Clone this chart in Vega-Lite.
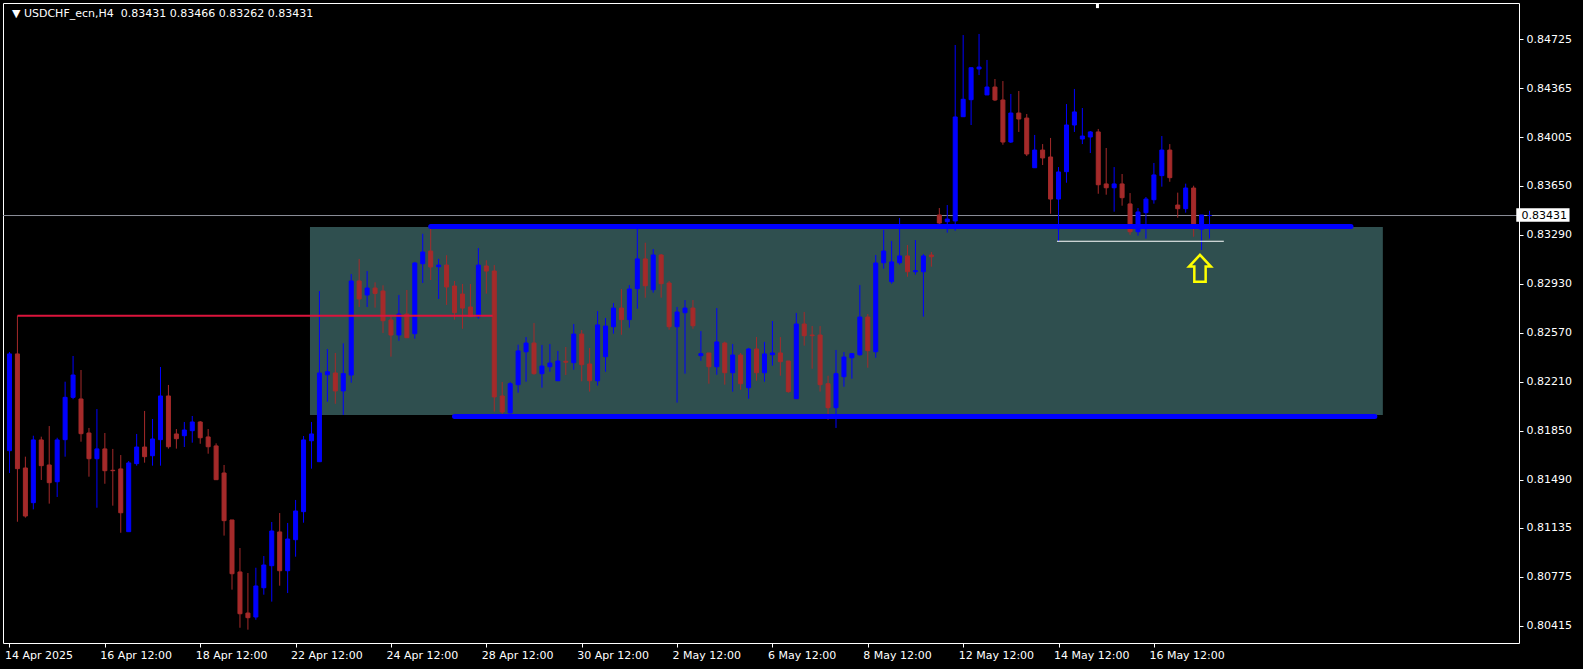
{
  "$schema": "https://vega.github.io/schema/vega-lite/v6.json",
  "width": 1516,
  "height": 640,
  "autosize": "none",
  "padding": {"left": 3, "top": 3, "right": 64, "bottom": 26},
  "background": "#000000",
  "config": {"view": {"stroke": "#ffffff", "strokeWidth": 1}, "font": "DejaVu Sans"},
  "datasets": {
    "candles": [
      {"i":0,"o":0.81703,"h":0.82428,"l":0.81539,"c":0.82414},
      {"i":1,"o":0.82414,"h":0.82695,"l":0.81181,"c":0.81571},
      {"i":2,"o":0.81576,"h":0.81659,"l":0.81211,"c":0.81223},
      {"i":3,"o":0.81321,"h":0.81813,"l":0.81272,"c":0.81782},
      {"i":4,"o":0.81782,"h":0.81806,"l":0.81488,"c":0.81593},
      {"i":5,"o":0.81598,"h":0.81884,"l":0.81314,"c":0.81468},
      {"i":6,"o":0.81475,"h":0.81798,"l":0.81363,"c":0.81782},
      {"i":7,"o":0.81784,"h":0.8221,"l":0.81659,"c":0.82095},
      {"i":8,"o":0.82095,"h":0.82399,"l":0.82081,"c":0.82259},
      {"i":9,"o":0.82083,"h":0.82296,"l":0.81769,"c":0.81828},
      {"i":10,"o":0.81833,"h":0.8187,"l":0.81512,"c":0.81644},
      {"i":11,"o":0.81644,"h":0.82009,"l":0.81284,"c":0.81716},
      {"i":12,"o":0.81716,"h":0.81833,"l":0.8146,"c":0.81556},
      {"i":13,"o":0.81559,"h":0.81716,"l":0.81299,"c":0.81556},
      {"i":14,"o":0.81569,"h":0.81671,"l":0.811,"c":0.81247},
      {"i":15,"o":0.81108,"h":0.81627,"l":0.81108,"c":0.81613},
      {"i":16,"o":0.81608,"h":0.81826,"l":0.81593,"c":0.8173},
      {"i":17,"o":0.8173,"h":0.81995,"l":0.81615,"c":0.81659},
      {"i":18,"o":0.81666,"h":0.81936,"l":0.81593,"c":0.81789},
      {"i":19,"o":0.81784,"h":0.82318,"l":0.81593,"c":0.82105},
      {"i":20,"o":0.82105,"h":0.82186,"l":0.81718,"c":0.81732},
      {"i":21,"o":0.81826,"h":0.81862,"l":0.81718,"c":0.81791},
      {"i":22,"o":0.81813,"h":0.81914,"l":0.8173,"c":0.81855},
      {"i":23,"o":0.8185,"h":0.81958,"l":0.81762,"c":0.81914},
      {"i":24,"o":0.81914,"h":0.81921,"l":0.81754,"c":0.81798},
      {"i":25,"o":0.81804,"h":0.81862,"l":0.81681,"c":0.81732},
      {"i":26,"o":0.81738,"h":0.81757,"l":0.81488,"c":0.8149},
      {"i":27,"o":0.81539,"h":0.81598,"l":0.81079,"c":0.81189},
      {"i":28,"o":0.81194,"h":0.81194,"l":0.80682,"c":0.80799},
      {"i":29,"o":0.80812,"h":0.80988,"l":0.80402,"c":0.80505},
      {"i":30,"o":0.8051,"h":0.80804,"l":0.80388,"c":0.80476},
      {"i":31,"o":0.80481,"h":0.80843,"l":0.80461,"c":0.80709},
      {"i":32,"o":0.80696,"h":0.80929,"l":0.80645,"c":0.80863},
      {"i":33,"o":0.80858,"h":0.81179,"l":0.80594,"c":0.81113},
      {"i":34,"o":0.81106,"h":0.81245,"l":0.80711,"c":0.80821},
      {"i":35,"o":0.80821,"h":0.81172,"l":0.80657,"c":0.81054},
      {"i":36,"o":0.81049,"h":0.81341,"l":0.80924,"c":0.8126},
      {"i":37,"o":0.81255,"h":0.81811,"l":0.81174,"c":0.81782},
      {"i":38,"o":0.81776,"h":0.81914,"l":0.81571,"c":0.81826},
      {"i":39,"o":0.81622,"h":0.82876,"l":0.81622,"c":0.82274},
      {"i":40,"o":0.82261,"h":0.8245,"l":0.82063,"c":0.82283},
      {"i":41,"o":0.82274,"h":0.82421,"l":0.82048,"c":0.82142},
      {"i":42,"o":0.82142,"h":0.82492,"l":0.81965,"c":0.82269},
      {"i":43,"o":0.82259,"h":0.83001,"l":0.82203,"c":0.8295},
      {"i":44,"o":0.8295,"h":0.83112,"l":0.82759,"c":0.82818},
      {"i":45,"o":0.82847,"h":0.83023,"l":0.82759,"c":0.82898},
      {"i":46,"o":0.82898,"h":0.8294,"l":0.82754,"c":0.82859},
      {"i":47,"o":0.82876,"h":0.82918,"l":0.82568,"c":0.82658},
      {"i":48,"o":0.82663,"h":0.82688,"l":0.82394,"c":0.82553},
      {"i":49,"o":0.82553,"h":0.82847,"l":0.82511,"c":0.82707},
      {"i":50,"o":0.82707,"h":0.82884,"l":0.82533,"c":0.82533},
      {"i":51,"o":0.82563,"h":0.8309,"l":0.82526,"c":0.83082},
      {"i":52,"o":0.83077,"h":0.83297,"l":0.82935,"c":0.83163},
      {"i":53,"o":0.8317,"h":0.83337,"l":0.82957,"c":0.83053},
      {"i":54,"o":0.83055,"h":0.83112,"l":0.82818,"c":0.83067},
      {"i":55,"o":0.83067,"h":0.83139,"l":0.82774,"c":0.82906},
      {"i":56,"o":0.82913,"h":0.8295,"l":0.82666,"c":0.82717},
      {"i":57,"o":0.82854,"h":0.82928,"l":0.82599,"c":0.82751},
      {"i":58,"o":0.82759,"h":0.82928,"l":0.82688,"c":0.82688},
      {"i":59,"o":0.82688,"h":0.83192,"l":0.82673,"c":0.83067},
      {"i":60,"o":0.8306,"h":0.83102,"l":0.82857,"c":0.83023},
      {"i":61,"o":0.83023,"h":0.83067,"l":0.8199,"c":0.82098},
      {"i":62,"o":0.82105,"h":0.82208,"l":0.81973,"c":0.81987},
      {"i":63,"o":0.8198,"h":0.82208,"l":0.8198,"c":0.82195},
      {"i":64,"o":0.82188,"h":0.82482,"l":0.82129,"c":0.82436},
      {"i":65,"o":0.8243,"h":0.82538,"l":0.8221,"c":0.82494},
      {"i":66,"o":0.82494,"h":0.82641,"l":0.82261,"c":0.82269},
      {"i":67,"o":0.82269,"h":0.8248,"l":0.82166,"c":0.82325},
      {"i":68,"o":0.8232,"h":0.82487,"l":0.82283,"c":0.82347},
      {"i":69,"o":0.82217,"h":0.82436,"l":0.82217,"c":0.82362},
      {"i":70,"o":0.8236,"h":0.82465,"l":0.82259,"c":0.82353},
      {"i":71,"o":0.8235,"h":0.82634,"l":0.82298,"c":0.8256},
      {"i":72,"o":0.8256,"h":0.8259,"l":0.82213,"c":0.82335},
      {"i":73,"o":0.8234,"h":0.82458,"l":0.82137,"c":0.82217},
      {"i":74,"o":0.82217,"h":0.82729,"l":0.82181,"c":0.82627},
      {"i":75,"o":0.82394,"h":0.82678,"l":0.82283,"c":0.82619},
      {"i":76,"o":0.82614,"h":0.82788,"l":0.82563,"c":0.82751},
      {"i":77,"o":0.82751,"h":0.82891,"l":0.82555,"c":0.82666},
      {"i":78,"o":0.82666,"h":0.8292,"l":0.82607,"c":0.82891},
      {"i":79,"o":0.82893,"h":0.83332,"l":0.82746,"c":0.83112},
      {"i":80,"o":0.83112,"h":0.83231,"l":0.82827,"c":0.82915},
      {"i":81,"o":0.82886,"h":0.83185,"l":0.82864,"c":0.83141},
      {"i":82,"o":0.83141,"h":0.83148,"l":0.82827,"c":0.8293},
      {"i":83,"o":0.82935,"h":0.8295,"l":0.82592,"c":0.82614},
      {"i":84,"o":0.82614,"h":0.82759,"l":0.82056,"c":0.82722},
      {"i":85,"o":0.82717,"h":0.8281,"l":0.82269,"c":0.82751},
      {"i":86,"o":0.82751,"h":0.8281,"l":0.82599,"c":0.82621},
      {"i":87,"o":0.82401,"h":0.82582,"l":0.82364,"c":0.82416},
      {"i":88,"o":0.82421,"h":0.82421,"l":0.82195,"c":0.8232},
      {"i":89,"o":0.8232,"h":0.82751,"l":0.82261,"c":0.82502},
      {"i":90,"o":0.82494,"h":0.82504,"l":0.82188,"c":0.82276},
      {"i":91,"o":0.82276,"h":0.82487,"l":0.82137,"c":0.82406},
      {"i":92,"o":0.82406,"h":0.82421,"l":0.82151,"c":0.82195},
      {"i":93,"o":0.82166,"h":0.82458,"l":0.82085,"c":0.8245},
      {"i":94,"o":0.8245,"h":0.82538,"l":0.82217,"c":0.82276},
      {"i":95,"o":0.82276,"h":0.82502,"l":0.8221,"c":0.82414},
      {"i":96,"o":0.82408,"h":0.82656,"l":0.82328,"c":0.82421},
      {"i":97,"o":0.82421,"h":0.82538,"l":0.82254,"c":0.82357},
      {"i":98,"o":0.82362,"h":0.82362,"l":0.82129,"c":0.82137},
      {"i":99,"o":0.82085,"h":0.82715,"l":0.82085,"c":0.82634},
      {"i":100,"o":0.82634,"h":0.82722,"l":0.82475,"c":0.82548},
      {"i":101,"o":0.82553,"h":0.82619,"l":0.82305,"c":0.82548},
      {"i":102,"o":0.82553,"h":0.82619,"l":0.82137,"c":0.82188},
      {"i":103,"o":0.82195,"h":0.82254,"l":0.81931,"c":0.82019},
      {"i":104,"o":0.82019,"h":0.82443,"l":0.8187,"c":0.82269},
      {"i":105,"o":0.82247,"h":0.82428,"l":0.82173,"c":0.82391},
      {"i":106,"o":0.82386,"h":0.82421,"l":0.82232,"c":0.82416},
      {"i":107,"o":0.82408,"h":0.8292,"l":0.82401,"c":0.82685},
      {"i":108,"o":0.82685,"h":0.82707,"l":0.82313,"c":0.82438},
      {"i":109,"o":0.8243,"h":0.83141,"l":0.82386,"c":0.83082},
      {"i":110,"o":0.83084,"h":0.83325,"l":0.8304,"c":0.8317},
      {"i":111,"o":0.82945,"h":0.83244,"l":0.8293,"c":0.8309},
      {"i":112,"o":0.83084,"h":0.83413,"l":0.8307,"c":0.83134},
      {"i":113,"o":0.83134,"h":0.83214,"l":0.82981,"c":0.83018},
      {"i":114,"o":0.83018,"h":0.83251,"l":0.82996,"c":0.83026},
      {"i":115,"o":0.83018,"h":0.83148,"l":0.82688,"c":0.83134},
      {"i":116,"o":0.83141,"h":0.83163,"l":0.83055,"c":0.83128},
      {"i":117,"o":0.83435,"h":0.83486,"l":0.83349,"c":0.83376},
      {"i":118,"o":0.83386,"h":0.83508,"l":0.83305,"c":0.83405},
      {"i":119,"o":0.83391,"h":0.84684,"l":0.83319,"c":0.84155},
      {"i":120,"o":0.84157,"h":0.84757,"l":0.84157,"c":0.84285},
      {"i":121,"o":0.84282,"h":0.84517,"l":0.84096,"c":0.84517},
      {"i":122,"o":0.84508,"h":0.84765,"l":0.84463,"c":0.84522},
      {"i":123,"o":0.84317,"h":0.84574,"l":0.84317,"c":0.84375},
      {"i":124,"o":0.84375,"h":0.84434,"l":0.84272,"c":0.8428},
      {"i":125,"o":0.8428,"h":0.84419,"l":0.83951,"c":0.83971},
      {"i":126,"o":0.83971,"h":0.84324,"l":0.83964,"c":0.84184},
      {"i":127,"o":0.84184,"h":0.84346,"l":0.84045,"c":0.8414},
      {"i":128,"o":0.84147,"h":0.84177,"l":0.83868,"c":0.83883},
      {"i":129,"o":0.83782,"h":0.84023,"l":0.83782,"c":0.83912},
      {"i":130,"o":0.83912,"h":0.83956,"l":0.83802,"c":0.83854},
      {"i":131,"o":0.83861,"h":0.84001,"l":0.83444,"c":0.83552},
      {"i":132,"o":0.83552,"h":0.83787,"l":0.83239,"c":0.83751},
      {"i":133,"o":0.83753,"h":0.8425,"l":0.83672,"c":0.84096},
      {"i":134,"o":0.84096,"h":0.84361,"l":0.84045,"c":0.84192},
      {"i":135,"o":0.83993,"h":0.84221,"l":0.83956,"c":0.84015},
      {"i":136,"o":0.84008,"h":0.84052,"l":0.8389,"c":0.84045},
      {"i":137,"o":0.84045,"h":0.84067,"l":0.83591,"c":0.83657},
      {"i":138,"o":0.83663,"h":0.83927,"l":0.83584,"c":0.83635},
      {"i":139,"o":0.83635,"h":0.83787,"l":0.83459,"c":0.83663},
      {"i":140,"o":0.83663,"h":0.83736,"l":0.83503,"c":0.83562},
      {"i":141,"o":0.83516,"h":0.83596,"l":0.8329,"c":0.83312},
      {"i":142,"o":0.83312,"h":0.83486,"l":0.83283,"c":0.83457},
      {"i":143,"o":0.83452,"h":0.83567,"l":0.83261,"c":0.83552},
      {"i":144,"o":0.83547,"h":0.83817,"l":0.83518,"c":0.83729},
      {"i":145,"o":0.83724,"h":0.84015,"l":0.83643,"c":0.83912},
      {"i":146,"o":0.83912,"h":0.83956,"l":0.83679,"c":0.83709},
      {"i":147,"o":0.83508,"h":0.83599,"l":0.83415,"c":0.83481},
      {"i":148,"o":0.83481,"h":0.83665,"l":0.83452,"c":0.83633},
      {"i":149,"o":0.83633,"h":0.8365,"l":0.83275,"c":0.83354},
      {"i":150,"o":0.8333,"h":0.83435,"l":0.83178,"c":0.83435},
      {"i":151,"o":0.83431,"h":0.83466,"l":0.83262,"c":0.83431}
    ]
  },
  "layer": [
    {
      "data": {"values": [{"x1": 37.81, "x2": 172.81, "top": 0.83347, "bottom": 0.81966}]},
      "mark": {"type": "rect", "color": "#2f4f4f"},
      "encoding": {
        "x": {
          "field": "x1", "type": "quantitative",
          "scale": {"domain": [-0.1875, 189.3125], "nice": false, "zero": false},
          "axis": {
            "orient": "bottom", "title": null, "grid": false, "domain": false,
            "values": [0, 12, 24, 36, 48, 60, 72, 84, 96, 108, 120, 132, 144],
            "labelExpr": "['14 Apr 2025','16 Apr 12:00','18 Apr 12:00','22 Apr 12:00','24 Apr 12:00','28 Apr 12:00','30 Apr 12:00','2 May 12:00','6 May 12:00','8 May 12:00','12 May 12:00','14 May 12:00','16 May 12:00'][round(datum.value / 12)]",
            "tickColor": "#ffffff", "tickSize": 4, "tickWidth": 1,
            "labelColor": "#ffffff", "labelFont": "DejaVu Sans", "labelFontSize": 11,
            "labelAlign": "left", "labelPadding": 2, "labelOffset": -5, "labelOverlap": false, "labelFlush": false, "labelBound": false
          }
        },
        "x2": {"field": "x2"},
        "y": {
          "field": "top", "type": "quantitative",
          "scale": {"domain": [0.8029, 0.849925], "nice": false, "zero": false},
          "axis": {
            "orient": "right", "title": null, "grid": false, "domain": false,
            "values": [0.84725, 0.84365, 0.84005, 0.8365, 0.8329, 0.8293, 0.8257, 0.8221, 0.8185, 0.8149, 0.81135, 0.80775, 0.80415],
            "format": ".5f",
            "tickColor": "#ffffff", "tickSize": 4, "tickWidth": 1,
            "labelColor": "#ffffff", "labelFont": "DejaVu Sans", "labelFontSize": 11,
            "labelPadding": 3, "labelOverlap": false, "labelBound": false
          }
        },
        "y2": {"field": "bottom"}
      }
    },
    {
      "data": {"values": [{"price": 0.83431}]},
      "mark": {"type": "rule", "color": "#8c8f99", "strokeWidth": 1},
      "encoding": {
        "y": {"field": "price", "type": "quantitative", "scale": {"domain": [0.8029, 0.849925], "nice": false, "zero": false}, "axis": {"title": null}}
      }
    },
    {
      "data": {"name": "candles"},
      "mark": {"type": "rule", "strokeWidth": 1},
      "encoding": {
        "x": {"field": "i", "type": "quantitative", "scale": {"domain": [-0.1875, 189.3125], "nice": false, "zero": false}, "axis": {"title": null}},
        "y": {"field": "l", "type": "quantitative", "scale": {"domain": [0.8029, 0.849925], "nice": false, "zero": false}, "axis": {"title": null}},
        "y2": {"field": "h"},
        "color": {"condition": {"test": "datum.c >= datum.o", "value": "#0000ff"}, "value": "#a52a2a"}
      }
    },
    {
      "data": {"name": "candles"},
      "mark": {"type": "bar", "size": 4, "strokeWidth": 1},
      "encoding": {
        "x": {"field": "i", "type": "quantitative", "scale": {"domain": [-0.1875, 189.3125], "nice": false, "zero": false}, "axis": {"title": null}},
        "y": {"field": "o", "type": "quantitative", "scale": {"domain": [0.8029, 0.849925], "nice": false, "zero": false}, "axis": {"title": null}},
        "y2": {"field": "c"},
        "color": {"condition": {"test": "datum.c >= datum.o", "value": "#0000ff"}, "value": "#a52a2a"},
        "stroke": {"condition": {"test": "datum.c >= datum.o", "value": "#0000ff"}, "value": "#a52a2a"}
      }
    },
    {
      "data": {"values": [{"x1": 1, "x2": 60.8, "price": 0.82695}]},
      "mark": {"type": "rule", "color": "#dc143c", "strokeWidth": 2},
      "encoding": {
        "x": {"field": "x1", "type": "quantitative", "scale": {"domain": [-0.1875, 189.3125], "nice": false, "zero": false}, "axis": {"title": null}},
        "x2": {"field": "x2"},
        "y": {"field": "price", "type": "quantitative", "scale": {"domain": [0.8029, 0.849925], "nice": false, "zero": false}, "axis": {"title": null}}
      }
    },
    {
      "data": {"values": [{"x1": 53, "x2": 168.8, "price": 0.8335}, {"x1": 56, "x2": 171.8, "price": 0.81954}]},
      "mark": {"type": "rule", "color": "#0000ff", "strokeWidth": 5, "strokeCap": "round"},
      "encoding": {
        "x": {"field": "x1", "type": "quantitative", "scale": {"domain": [-0.1875, 189.3125], "nice": false, "zero": false}, "axis": {"title": null}},
        "x2": {"field": "x2"},
        "y": {"field": "price", "type": "quantitative", "scale": {"domain": [0.8029, 0.849925], "nice": false, "zero": false}, "axis": {"title": null}}
      }
    },
    {
      "data": {"values": [{"x1": 131.8, "x2": 152.8, "price": 0.83242}]},
      "mark": {"type": "rule", "color": "#ffffff", "strokeWidth": 1.2},
      "encoding": {
        "x": {"field": "x1", "type": "quantitative", "scale": {"domain": [-0.1875, 189.3125], "nice": false, "zero": false}, "axis": {"title": null}},
        "x2": {"field": "x2"},
        "y": {"field": "price", "type": "quantitative", "scale": {"domain": [0.8029, 0.849925], "nice": false, "zero": false}, "axis": {"title": null}}
      }
    },
    {
      "data": {"values": [{"i": 149.8, "price": 0.83043}]},
      "mark": {"type": "point", "shape": "M0,-1L0.81,-0.13L0.42,-0.13L0.42,1L-0.42,1L-0.42,-0.13L-0.81,-0.13Z", "filled": false, "color": "#ffff00", "strokeWidth": 2.5, "size": 729, "opacity": 1},
      "encoding": {
        "x": {"field": "i", "type": "quantitative", "scale": {"domain": [-0.1875, 189.3125], "nice": false, "zero": false}, "axis": {"title": null}},
        "y": {"field": "price", "type": "quantitative", "scale": {"domain": [0.8029, 0.849925], "nice": false, "zero": false}, "axis": {"title": null}}
      }
    },
    {
      "data": {"values": [{"i": 136.9, "p1": 0.849925, "p2": 0.84955}]},
      "mark": {"type": "rule", "color": "#ffffff", "strokeWidth": 3},
      "encoding": {
        "x": {"field": "i", "type": "quantitative", "scale": {"domain": [-0.1875, 189.3125], "nice": false, "zero": false}, "axis": {"title": null}},
        "y": {"field": "p1", "type": "quantitative", "scale": {"domain": [0.8029, 0.849925], "nice": false, "zero": false}, "axis": {"title": null}},
        "y2": {"field": "p2"}
      }
    },
    {
      "data": {"values": [{"x1": 189.6, "x2": 196.3, "top": 0.83484, "bottom": 0.83386}]},
      "mark": {"type": "rect", "color": "#ffffff"},
      "encoding": {
        "x": {"field": "x1", "type": "quantitative", "scale": {"domain": [-0.1875, 189.3125], "nice": false, "zero": false}, "axis": {"title": null}},
        "x2": {"field": "x2"},
        "y": {"field": "top", "type": "quantitative", "scale": {"domain": [0.8029, 0.849925], "nice": false, "zero": false}, "axis": {"title": null}},
        "y2": {"field": "bottom"}
      }
    },
    {
      "data": {"values": [{"i": 190.25, "price": 0.83431, "label": "0.83431"}]},
      "mark": {"type": "text", "align": "left", "baseline": "middle", "font": "DejaVu Sans", "fontSize": 11, "color": "#000000"},
      "encoding": {
        "x": {"field": "i", "type": "quantitative", "scale": {"domain": [-0.1875, 189.3125], "nice": false, "zero": false}, "axis": {"title": null}},
        "y": {"field": "price", "type": "quantitative", "scale": {"domain": [0.8029, 0.849925], "nice": false, "zero": false}, "axis": {"title": null}},
        "text": {"field": "label"}
      }
    },
    {
      "data": {"values": [{"i": 0.3125, "price": 0.848874, "label": "▼ USDCHF_ecn,H4\u00a0\u00a00.83431 0.83466 0.83262 0.83431"}]},
      "mark": {"type": "text", "align": "left", "baseline": "alphabetic", "font": "DejaVu Sans", "fontSize": 11, "color": "#ffffff"},
      "encoding": {
        "x": {"field": "i", "type": "quantitative", "scale": {"domain": [-0.1875, 189.3125], "nice": false, "zero": false}, "axis": {"title": null}},
        "y": {"field": "price", "type": "quantitative", "scale": {"domain": [0.8029, 0.849925], "nice": false, "zero": false}, "axis": {"title": null}},
        "text": {"field": "label"}
      }
    }
  ]
}
